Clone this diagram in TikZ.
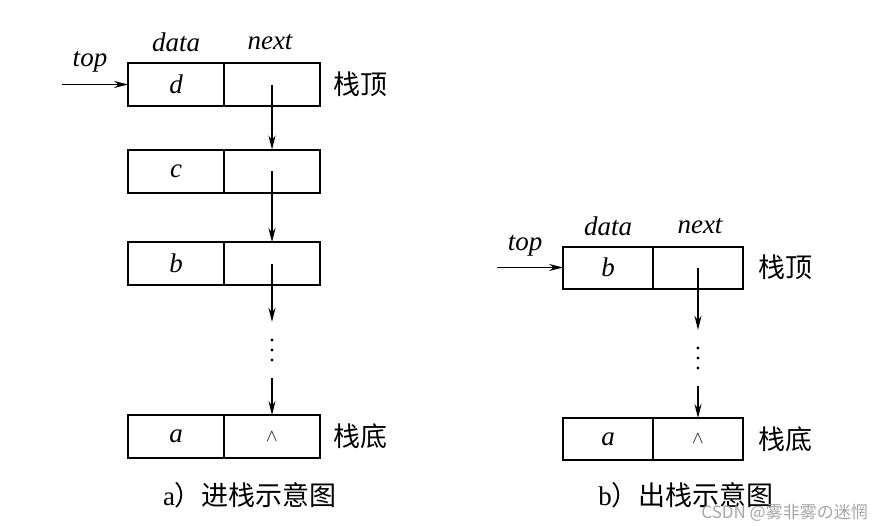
\documentclass[tikz,border=0pt]{standalone}
\usepackage{fontspec}
\setmainfont{Liberation Serif}
\newfontfamily\cjk{Noto Sans CJK SC}
\usetikzlibrary{arrows.meta, positioning}

\tikzset{
  cell/.style={draw, line width=2pt, outer sep=0pt, inner sep=0pt,
    minimum width=96pt, minimum height=43pt,
    font=\fontsize{27}{30}\selectfont\itshape},
  lbl/.style={inner sep=2pt, font=\fontsize{27}{30}\selectfont\itshape},
  side/.style={inner sep=2pt, font=\cjk\fontsize{27}{30}\selectfont},
  caption/.style={inner sep=2pt, font=\fontsize{27}{30}\selectfont},
  link/.style={line width=1.2pt, -{Stealth[length=14pt, width=7pt]}},
  vgap/.style={minimum width=8pt, minimum height=56pt, inner sep=0pt,
    path picture={\foreach \k in {-10,0,10}
      \fill ([yshift=\k pt]path picture bounding box.center) circle (1.6pt);}},
}
\newcommand{\nil}{{\fontsize{17}{19}\selectfont$\wedge$}}

\begin{document}
\begin{tikzpicture}[x=1pt, y=-1pt]
    \useasboundingbox[fill=white] (0,0) rectangle (873,525);

    % --- a) push ---
    \node[lbl] (dataL) at (176,42) {data};
    \node[lbl] (nextL) at (270,42) {next};
    \node[cell] (dd) at (176,84.5) {d};
    \node[cell, right=0pt of dd] (nd) {};
    \node[cell] (dc) at (176,171) {c};
    \node[cell, right=0pt of dc] (nc) {};
    \node[cell] (db) at (176,263.5) {b};
    \node[cell, right=0pt of db] (nb) {};
    \node[vgap] (gapL) at (272,350) {};
    \node[cell] (da) at (176,436.5) {a};
    \node[cell, right=0pt of da] (na) {\nil};
    \node[side, right=11pt of nd] (topsideL) {栈顶};
    \node[side, right=11pt of na] (botsideL) {栈底};
    \node[lbl] (topL) at (90,62) {top};
    \coordinate (inL) at (62,84.5);
    \draw[link] (inL) -- (dd.west);
    \draw[link] (nd.center) -- (nc.north);
    \draw[link] (nc.center) -- (nb.north);
    \draw[link] (nb.center) -- (gapL.north);
    \draw[link] (gapL.south) -- (na.north);
    \node[caption] (capL) at (250,495) {a\cjk）进栈示意图};

    % --- b) pop ---
    \node[lbl] (dataR) at (608,226) {data};
    \node[lbl] (nextR) at (700,226) {next};
    \node[cell, minimum width=90pt, minimum height=42pt] (rdb) at (608,267.5) {b};
    \node[cell, minimum width=90pt, minimum height=42pt, right=0pt of rdb] (rnb) {};
    \node[vgap] (gapR) at (698,358) {};
    \node[cell, minimum width=90pt, minimum height=42pt] (rda) at (608,439) {a};
    \node[cell, minimum width=90pt, minimum height=42pt, right=0pt of rda] (rna) {\nil};
    \node[side, right=13pt of rnb] (topsideR) {栈顶};
    \node[side, right=13pt of rna] (botsideR) {栈底};
    \node[lbl] (topR) at (525,246) {top};
    \coordinate (inR) at (497,267.5);
    \draw[link] (inR) -- (rdb.west);
    \draw[link] (rnb.center) -- (gapR.north);
    \draw[link] (gapR.south) -- (rna.north);
    \node[caption] (capR) at (686,495) {b\cjk）出栈示意图};

    % watermark
    \node[text=black!35, inner sep=0pt, anchor=east, font=\cjk\fontsize{17}{20}\selectfont]
      (mark) at (868,513) {CSDN @雾非雾の迷惘};
\end{tikzpicture}
\end{document}
